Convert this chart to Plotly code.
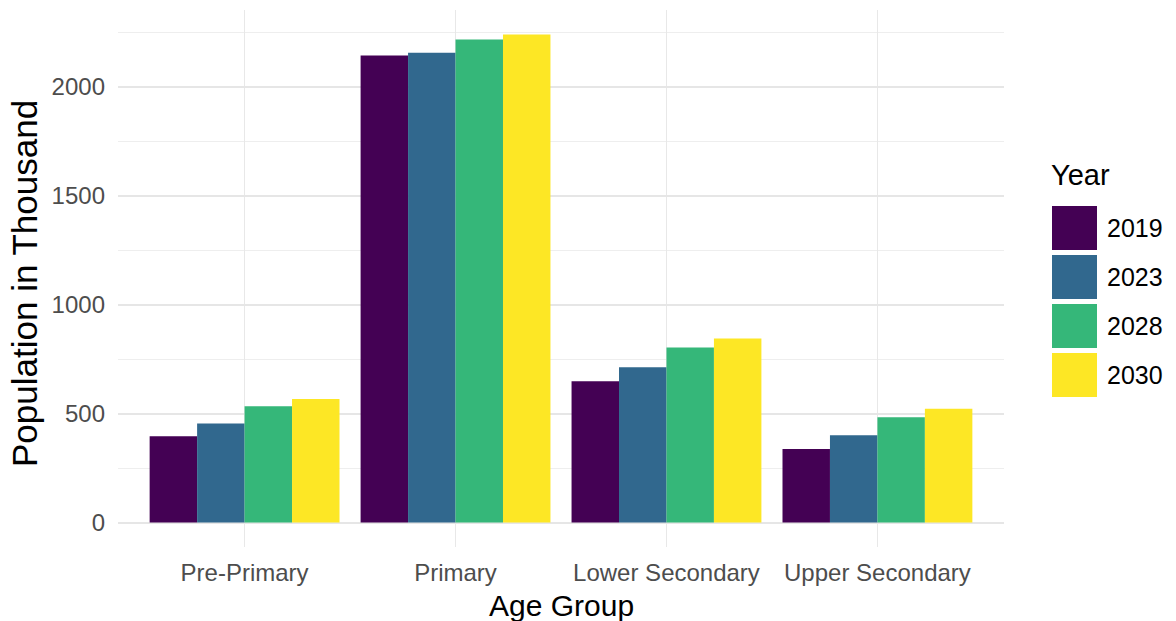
import plotly.graph_objects as go

# ---- data ----
age_groups = ["Pre-Primary", "Primary", "Lower Secondary", "Upper Secondary"]
years = ["2019", "2023", "2028", "2030"]
pop_2019 = [396, 2142, 648, 338]
pop_2023 = [454, 2155, 713, 401]
pop_2028 = [534, 2216, 803, 483]
pop_2030 = [567, 2239, 844, 522]
series = [pop_2019, pop_2023, pop_2028, pop_2030]
colors = ["#440154", "#31688E", "#35B779", "#FDE725"]
y_ticks = [0, 500, 1000, 1500, 2000]

W, H = 1176, 621
ML, MR, MT, MB = 118, 172, 10, 74
PW, PH = W - ML - MR, H - MT - MB

def px_x(px):
    return (px - ML) / PW

def px_y(py):
    return (H - MB - py) / PH

FONT = "Liberation Sans, Arial, Helvetica, sans-serif"

fig = go.Figure()
for yr, vals, col in zip(years, series, colors):
    fig.add_trace(go.Bar(x=age_groups, y=vals, name=yr, marker=dict(color=col, line=dict(width=0)),
                         showlegend=False))

ymax = max(max(s) for s in series)
pad = 0.05 * ymax

# manual legend (big square keys like ggplot)
shapes = []
annotations = []
key_x0, key_x1 = 1052, 1097
key_top0, key_h, key_step = 206, 44, 49
annotations.append(dict(text="Year", x=px_x(1049), y=px_y(175), xref="paper", yref="paper",
                        xanchor="left", yanchor="middle", showarrow=False,
                        font=dict(family=FONT, size=29, color="#000000")))
for i, (yr, col) in enumerate(zip(years, colors)):
    t = key_top0 + i * key_step
    shapes.append(dict(type="rect", xref="paper", yref="paper",
                       x0=px_x(key_x0), x1=px_x(key_x1), y0=px_y(t + key_h), y1=px_y(t),
                       fillcolor=col, line=dict(width=0), layer="above"))
    annotations.append(dict(text=yr, x=px_x(1105), y=px_y(t + key_h / 2), xref="paper", yref="paper",
                            xanchor="left", yanchor="middle", showarrow=False,
                            font=dict(family=FONT, size=25, color="#000000")))

# axis titles
annotations.append(dict(text="Age Group", x=0.5, y=px_y(605), xref="paper", yref="paper",
                        xanchor="center", yanchor="middle", showarrow=False,
                        font=dict(family=FONT, size=30, color="#000000")))
annotations.append(dict(text="Population in Thousand", x=px_x(24), y=px_y(284), xref="paper", yref="paper",
                        xanchor="center", yanchor="middle", showarrow=False, textangle=-90,
                        font=dict(family=FONT, size=35, color="#000000")))

fig.update_layout(
    width=W, height=H,
    margin=dict(l=ML, r=MR, t=MT, b=MB, autoexpand=False),
    paper_bgcolor="white", plot_bgcolor="white",
    barmode="group", bargap=0.1, bargroupgap=0,
    font=dict(family=FONT, color="#4D4D4D"),
    shapes=shapes, annotations=annotations,
    xaxis=dict(type="category", categoryorder="array", categoryarray=age_groups,
               range=[-0.6, len(age_groups) - 0.4],
               showgrid=True, gridcolor="#E8E8E8", gridwidth=1.4,
               showline=False, zeroline=False, ticks="",
               tickfont=dict(family=FONT, size=24, color="#4D4D4D"),
               ticklabelstandoff=9, automargin=False),
    yaxis=dict(range=[-pad, ymax + pad], tickvals=y_ticks,
               showgrid=True, gridcolor="#E6E6E6", gridwidth=1.5,
               minor=dict(dtick=250, tick0=250, showgrid=True, gridcolor="#EEEEEE", gridwidth=1),
               zeroline=False, showline=False, ticks="",
               tickfont=dict(family=FONT, size=24, color="#4D4D4D"),
               ticklabelstandoff=12, automargin=False),
)

fig.write_html("out.html", config={"displayModeBar": False},
               post_script="document.body.style.margin='0';document.body.style.padding='0';document.body.style.overflow='hidden';")
